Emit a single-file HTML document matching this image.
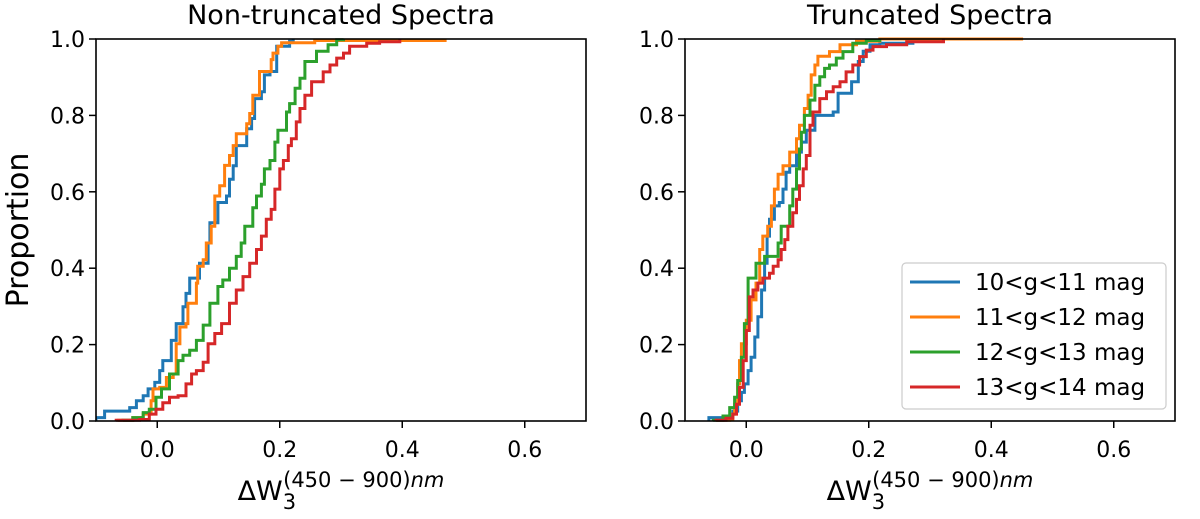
<!DOCTYPE html>
<html><head><meta charset="utf-8"><style>
body{margin:0;background:#fff;}
svg text{font-family:"DejaVu Sans","Liberation Sans",sans-serif;fill:#000;}
</style></head><body>
<svg id="chart" width="1200" height="514" viewBox="0 0 1200 514" xmlns="http://www.w3.org/2000/svg">
<g id="root"></g>
</svg>
<script>
const xTicks=[0.0,0.2,0.4,0.6];
const yTicks=[0.0,0.2,0.4,0.6,0.8,1.0];
const seriesNames=["10<g<11 mag","11<g<12 mag","12<g<13 mag","13<g<14 mag"];
const colors=["#1f77b4","#ff7f0e","#2ca02c","#d62728"];
const L_blue_x=[-0.100,-0.086,-0.045,-0.034,-0.023,-0.015,-0.004,0.004,0.009,0.023,0.031,0.042,0.047,0.053,0.069,0.083,0.086,0.099,0.113,0.118,0.124,0.129,0.146,0.154,0.159,0.170,0.175,0.184,0.195,0.216,0.222];
const L_blue_y=[0.009,0.026,0.035,0.053,0.066,0.084,0.101,0.132,0.158,0.211,0.255,0.299,0.334,0.374,0.413,0.466,0.519,0.572,0.589,0.633,0.668,0.721,0.765,0.792,0.844,0.862,0.906,0.915,0.981,0.994,1.0];
const L_orange_x=[-0.064,-0.040,-0.023,-0.010,-0.007,0.004,0.015,0.026,0.031,0.037,0.047,0.050,0.064,0.066,0.075,0.080,0.088,0.094,0.102,0.110,0.118,0.124,0.129,0.146,0.151,0.156,0.167,0.186,0.189,0.197,0.203,0.257,0.470];
const L_orange_y=[0.002,0.009,0.018,0.053,0.084,0.088,0.114,0.123,0.202,0.246,0.255,0.308,0.361,0.405,0.422,0.466,0.510,0.589,0.616,0.669,0.695,0.721,0.752,0.778,0.805,0.853,0.915,0.946,0.963,0.981,0.990,0.996,1.0];
const L_green_x=[-0.056,-0.040,-0.023,-0.013,-0.002,0.007,0.020,0.034,0.042,0.053,0.064,0.075,0.086,0.099,0.107,0.118,0.129,0.137,0.143,0.156,0.162,0.170,0.175,0.184,0.192,0.197,0.211,0.216,0.225,0.233,0.241,0.260,0.279,0.293,0.304];
const L_green_y=[0.002,0.009,0.022,0.031,0.062,0.084,0.123,0.158,0.172,0.185,0.211,0.251,0.308,0.352,0.369,0.400,0.431,0.466,0.510,0.558,0.589,0.620,0.660,0.682,0.730,0.761,0.809,0.831,0.871,0.897,0.941,0.968,0.985,0.998,1.0];
const L_red_x=[-0.067,-0.029,-0.013,-0.002,0.009,0.020,0.034,0.047,0.056,0.064,0.075,0.083,0.094,0.105,0.118,0.129,0.140,0.151,0.162,0.170,0.178,0.186,0.192,0.200,0.206,0.214,0.219,0.227,0.233,0.241,0.252,0.271,0.282,0.293,0.304,0.314,0.342,0.363,0.396];
const L_red_y=[0.002,0.004,0.018,0.031,0.048,0.062,0.066,0.097,0.123,0.132,0.154,0.202,0.229,0.255,0.308,0.343,0.378,0.413,0.449,0.484,0.528,0.554,0.607,0.660,0.682,0.721,0.739,0.783,0.818,0.853,0.888,0.914,0.932,0.950,0.963,0.981,0.989,0.993,1.0];
const R_blue_x=[-0.061,-0.038,-0.022,-0.014,-0.008,-0.003,0.003,0.008,0.014,0.019,0.025,0.030,0.034,0.038,0.046,0.054,0.060,0.065,0.071,0.082,0.090,0.098,0.112,0.142,0.150,0.169,0.172,0.183,0.191,0.202,0.218,0.272,0.322];
const R_blue_y=[0.009,0.011,0.026,0.053,0.075,0.097,0.132,0.167,0.220,0.273,0.343,0.413,0.484,0.528,0.563,0.572,0.607,0.651,0.668,0.704,0.730,0.761,0.800,0.809,0.858,0.858,0.888,0.941,0.968,0.985,0.989,0.995,1.0];
const R_orange_x=[-0.049,-0.027,-0.022,-0.019,-0.014,-0.011,-0.008,0.000,0.008,0.016,0.022,0.027,0.035,0.041,0.046,0.052,0.060,0.071,0.082,0.087,0.095,0.101,0.106,0.112,0.117,0.136,0.153,0.180,0.218,0.452];
const R_orange_y=[0.002,0.004,0.018,0.044,0.097,0.158,0.202,0.264,0.317,0.361,0.449,0.484,0.510,0.563,0.607,0.646,0.668,0.704,0.739,0.774,0.818,0.853,0.906,0.932,0.955,0.967,0.985,0.994,1.0,1.0];
const R_green_x=[-0.054,-0.038,-0.027,-0.019,-0.014,-0.008,-0.003,0.003,0.016,0.030,0.044,0.052,0.057,0.071,0.076,0.082,0.087,0.090,0.095,0.104,0.112,0.120,0.128,0.136,0.147,0.158,0.174,0.196,0.218];
const R_green_y=[0.002,0.013,0.035,0.062,0.106,0.167,0.255,0.374,0.413,0.431,0.431,0.466,0.510,0.563,0.607,0.660,0.712,0.756,0.800,0.840,0.879,0.901,0.923,0.932,0.950,0.967,0.989,0.996,1.0];
const R_red_x=[-0.049,-0.033,-0.022,-0.016,-0.011,-0.005,0.000,0.005,0.011,0.019,0.027,0.038,0.044,0.052,0.057,0.063,0.068,0.076,0.082,0.087,0.093,0.098,0.104,0.109,0.120,0.131,0.142,0.153,0.163,0.174,0.185,0.196,0.207,0.229,0.262,0.322];
const R_red_y=[0.002,0.007,0.018,0.044,0.088,0.158,0.237,0.325,0.343,0.361,0.374,0.387,0.405,0.422,0.449,0.475,0.510,0.545,0.580,0.616,0.660,0.695,0.774,0.809,0.844,0.862,0.875,0.888,0.914,0.932,0.954,0.971,0.980,0.985,0.993,1.0];

const NS="http://www.w3.org/2000/svg";
const root=document.getElementById('root');
function mk(tag,attrs,parent){const e=document.createElementNS(NS,tag);for(const k in attrs)e.setAttribute(k,attrs[k]);(parent||root).appendChild(e);return e;}
const xmin=-0.1,xmax=0.7,yTop=39,yBot=421;
function panel(left,title,data,legend,pname){
  const right=left+490;
  const sx=v=>left+(v-xmin)/(xmax-xmin)*(right-left);
  const sy=v=>yBot-v*(yBot-yTop);
  const g=mk('g',{});
  
  
  const clipId='clip'+left;
  const cp=mk('clipPath',{id:clipId},g);mk('rect',{x:left,y:yTop-3,width:490,height:yBot-yTop+6},cp);
  data.forEach((s,i)=>{
    let d='M'+sx(s[0][0]).toFixed(1)+','+sy(0).toFixed(1)+'V'+sy(s[1][0]).toFixed(1);
    for(let k=1;k<s[0].length;k++){d+='H'+sx(s[0][k]).toFixed(1)+'V'+sy(s[1][k]).toFixed(1);}
    const p=mk('path',{d:d,fill:'none',stroke:colors[i],'stroke-width':3,'clip-path':'url(#'+clipId+')'},g);
    
    
  });
  const fr=mk('rect',{x:left,y:yTop,width:490,height:yBot-yTop,fill:'none',stroke:'#000','stroke-width':1.6},g);
  
  
  xTicks.forEach(t=>{
    mk('line',{x1:sx(t),x2:sx(t),y1:yBot,y2:yBot+7,stroke:'#000','stroke-width':1.5},g);
    const tx=mk('text',{x:sx(t),y:yBot+36,'text-anchor':'middle','font-size':22},g);tx.textContent=t.toFixed(1);
    
    
  });
  yTicks.forEach(t=>{
    mk('line',{x1:left-7,x2:left,y1:sy(t),y2:sy(t),stroke:'#000','stroke-width':1.5},g);
    const tx=mk('text',{x:left-11,y:sy(t)+8,'text-anchor':'end','font-size':22},g);tx.textContent=t.toFixed(1);
    
    
  });
  const tt=mk('text',{x:left+245,y:24,'text-anchor':'middle','font-size':27},g);tt.textContent=title;
  
  
  const xl=mk('text',{x:left+245,y:500,'text-anchor':'middle','font-size':27},g);
  
  
  xl.innerHTML='ΔW<tspan dy="9" font-size="21">3</tspan><tspan dx="-13" dy="-22" font-size="21">(450 − 900)</tspan><tspan font-size="21" font-style="italic">nm</tspan>';
  if(legend){
    const lg=mk('g',{},g);
    
    
    mk('rect',{x:902,y:263,width:264,height:146,rx:4,fill:'#fff',stroke:'#ccc','stroke-width':1.2},lg);
    seriesNames.forEach((n,i)=>{
      const y=282+i*35;
      const e=mk('g',{},lg);
      
      
      mk('line',{x1:910,x2:960,y1:y,y2:y,stroke:colors[i],'stroke-width':3},e);
      const t=mk('text',{x:975,y:y+8,'font-size':23},e);t.textContent=n;
    });
  }
}
panel(96,'Non-truncated Spectra',[[L_blue_x,L_blue_y],[L_orange_x,L_orange_y],[L_green_x,L_green_y],[L_red_x,L_red_y]],false,'left-panel');
panel(685,'Truncated Spectra',[[R_blue_x,R_blue_y],[R_orange_x,R_orange_y],[R_green_x,R_green_y],[R_red_x,R_red_y]],true,'right-panel');
const yl=mk('text',{x:0,y:0,'text-anchor':'middle','font-size':30,transform:'translate(28,230) rotate(-90)'});
yl.textContent='Proportion';


</script>
</body></html>
